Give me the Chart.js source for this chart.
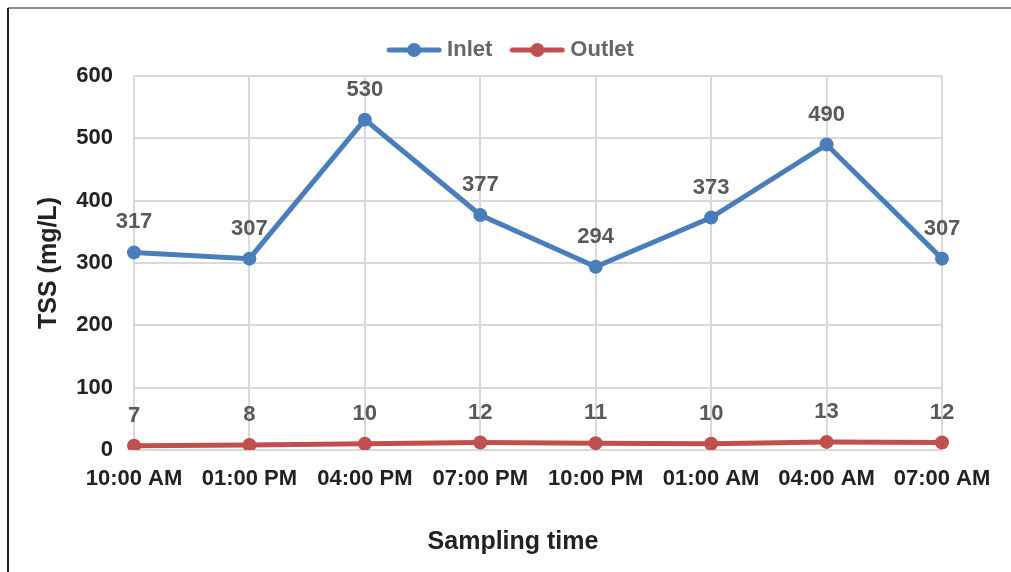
<!DOCTYPE html>
<html>
<head>
<meta charset="utf-8">
<script src="https://cdn.jsdelivr.net/npm/chart.js@4/dist/chart.umd.min.js"></script>
<style>
  html, body { margin: 0; padding: 0; background: #fff; }
  #wrap { width: 1011px; height: 572px; position: relative; }
</style>
</head>
<body>
<div id="wrap"><canvas id="chartTss" width="1011" height="572"></canvas></div>
<script>
"use strict";

// data
const samplingTimes = ["10:00 AM", "01:00 PM", "04:00 PM", "07:00 PM", "10:00 PM", "01:00 AM", "04:00 AM", "07:00 AM"];
const inletTss = [317, 307, 530, 377, 294, 373, 490, 307];
const outletTss = [7, 8, 10, 12, 11, 10, 13, 12];
const yTicks = [0, 100, 200, 300, 400, 500, 600];

const blue = '#4A7EBB';
const red = '#C0504D';
const gridColor = '#D9D9D9';
const fontFamily = '"Liberation Sans", Arial, sans-serif';

// legend marker: short line with a dot on it
function legendMarker(color) {
    const c = document.createElement('canvas');
    c.width = 56;
    c.height = 16;
    const g = c.getContext('2d');
    g.strokeStyle = color;
    g.lineWidth = 5;
    g.lineCap = 'round';
    g.beginPath();
    g.moveTo(3, 8);
    g.lineTo(53, 8);
    g.stroke();
    g.fillStyle = color;
    g.beginPath();
    g.arc(28, 8, 7, 0, Math.PI * 2);
    g.fill();
    return c;
}

//--------------------------------frame around the figure---------------------------------
const framePlugin = {
    id: 'frame',
    beforeDraw(chart) {
        const ctx = chart.ctx;
        ctx.save();
        ctx.fillStyle = '#fff';
        ctx.fillRect(0, 0, chart.width, chart.height);
        ctx.lineWidth = 2;
        ctx.strokeStyle = '#8c8c8c';
        ctx.beginPath();
        ctx.moveTo(8, 8);
        ctx.lineTo(chart.width, 8);
        ctx.stroke();
        ctx.strokeStyle = '#222';
        ctx.beginPath();
        ctx.moveTo(8, 8);
        ctx.lineTo(8, chart.height);
        ctx.stroke();
        ctx.restore();
    }
};

//--------------------------------value labels above points---------------------------------
const valueLabels = {
    id: 'valueLabels',
    afterDatasetsDraw(chart) {
        const ctx = chart.ctx;
        ctx.save();
        ctx.font = 'bold 22px ' + fontFamily;
        ctx.fillStyle = '#595959';
        ctx.textAlign = 'center';
        ctx.textBaseline = 'middle';
        chart.data.datasets.forEach((ds, i) => {
            const meta = chart.getDatasetMeta(i);
            meta.data.forEach((pt, j) => {
                ctx.fillText(String(ds.data[j]), pt.x, pt.y - 30);
            });
        });
        ctx.restore();
    }
};

// empty axes used only as spacers around the plot area
const spacer = size => ({
    type: 'linear',
    grid: { display: false, drawTicks: false },
    border: { display: false },
    ticks: { display: false },
    afterFit(scale) {
        if (scale.isHorizontal()) scale.height = size; else scale.width = size;
    }
});

const tss = document.getElementById('chartTss').getContext('2d');
const chartTss = new Chart(tss, {
    type: 'line',
    data: {
        labels: samplingTimes,
        datasets: [{
            label: 'Inlet',
            data: inletTss,
            borderColor: blue,
            backgroundColor: blue,
            borderWidth: 5,
            pointRadius: 7,
            pointBackgroundColor: blue,
            pointBorderWidth: 0,
            lineTension: 0,
            xAxisID: 'x',
            yAxisID: 'y'
        }, {
            label: 'Outlet',
            data: outletTss,
            borderColor: red,
            backgroundColor: red,
            borderWidth: 5,
            pointRadius: 7,
            pointBackgroundColor: red,
            pointBorderWidth: 0,
            lineTension: 0,
            xAxisID: 'x',
            yAxisID: 'y'
        }]
    },
    options: {
        responsive: false,
        animation: false,
        devicePixelRatio: 1,
        layout: {
            padding: { top: 16, left: 15, right: 0, bottom: 5 }
        },
        plugins: {
            tooltip: { enabled: false },
            legend: {
                position: 'top',
                labels: {
                    usePointStyle: true,
                    pointStyleWidth: 44,
                    padding: 23,
                    color: '#666',
                    font: { family: fontFamily, size: 22, weight: 'bold' },
                    generateLabels(chart) {
                        return chart.data.datasets.map((ds, i) => ({
                            text: ds.label,
                            fillStyle: ds.borderColor,
                            strokeStyle: ds.borderColor,
                            fontColor: '#666',
                            pointStyle: legendMarker(ds.borderColor),
                            lineWidth: 0,
                            hidden: false,
                            datasetIndex: i
                        }));
                    }
                }
            },
            title: {
                display: true,
                position: 'bottom',
                text: 'Sampling time',
                color: '#222',
                padding: { top: 10, bottom: 10 },
                font: { family: fontFamily, size: 25, weight: 'bold' }
            }
        },
        scales: {
            x: {
                position: 'bottom',
                offset: false,
                grid: { color: gridColor, lineWidth: 2, drawTicks: false },
                border: { color: gridColor, width: 2 },
                ticks: {
                    color: '#222',
                    padding: 16,
                    maxRotation: 0,
                    autoSkip: false,
                    font: { family: fontFamily, size: 22, weight: 'bold' }
                },
                afterFit(scale) { scale.height = 67; }
            },
            y: {
                position: 'left',
                min: 0,
                max: 600,
                afterBuildTicks(scale) { scale.ticks = yTicks.map(v => ({ value: v })); },
                grid: { color: gridColor, lineWidth: 2, drawTicks: false },
                border: { display: false },
                ticks: {
                    color: '#222',
                    padding: 21,
                    font: { family: fontFamily, size: 22, weight: 'bold' }
                },
                title: {
                    display: true,
                    text: 'TSS (mg/L)',
                    color: '#222',
                    padding: { top: 19, bottom: 0 },
                    font: { family: fontFamily, size: 25, weight: 'bold' }
                },
                afterFit(scale) { scale.width = 119; }
            },
            xTop: Object.assign(spacer(5), { position: 'top' }),
            yRight: Object.assign(spacer(69), { position: 'right' })
        }
    },
    plugins: [framePlugin, valueLabels]
});
</script>
</body>
</html>
